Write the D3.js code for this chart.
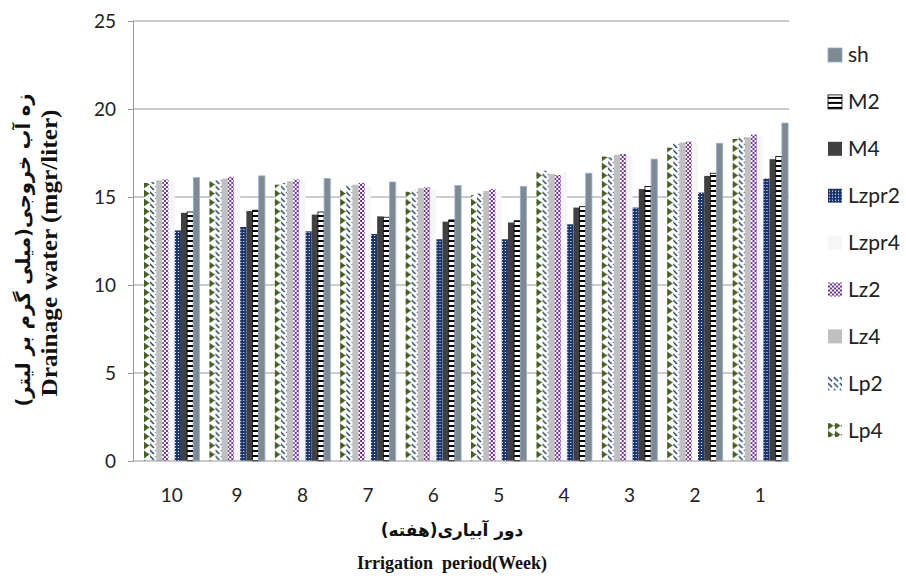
<!DOCTYPE html>
<html>
<head>
<meta charset="utf-8">
<script src="https://cdn.jsdelivr.net/npm/d3@7"></script>
<style>
  html, body { margin: 0; padding: 0; background: #fff; }
  svg { display: block; }
</style>
</head>
<body>
<svg id="chart" width="906" height="579"></svg>
<script>
// Irrigation periods (weeks), shown from 10 down to 1
const categories = ["10", "9", "8", "7", "6", "5", "4", "3", "2", "1"];

// Treatments in drawing order inside each group (left to right)
const seriesNames = ["Lp4", "Lp2", "Lz4", "Lz2", "Lzpr4", "Lzpr2", "M4", "M2", "sh"];

// Drainage water concentration (mgr/liter) per treatment, ordered like categories
const Lp4   = [15.80, 15.90, 15.70, 15.50, 15.30, 15.10, 16.50, 17.30, 17.80, 18.30];
const Lp2   = [15.85, 15.95, 15.80, 15.70, 15.40, 15.20, 16.50, 17.25, 18.05, 18.45];
const Lz4   = [15.95, 16.05, 15.90, 15.70, 15.50, 15.35, 16.30, 17.40, 18.10, 18.40];
const Lz2   = [16.00, 16.15, 16.00, 15.80, 15.55, 15.45, 16.25, 17.45, 18.15, 18.55];
const Lzpr4 = [15.90, 16.00, 15.85, 15.65, 15.45, 15.35, 16.40, 17.35, 18.05, 18.45];
const Lzpr2 = [13.10, 13.30, 13.05, 12.90, 12.60, 12.60, 13.45, 14.40, 15.25, 16.05];
const M4    = [14.10, 14.20, 14.00, 13.90, 13.60, 13.55, 14.40, 15.45, 16.20, 17.15];
const M2    = [14.15, 14.25, 14.15, 13.85, 13.70, 13.65, 14.45, 15.60, 16.35, 17.30];
const sh    = [16.10, 16.20, 16.05, 15.85, 15.65, 15.60, 16.35, 17.15, 18.05, 19.20];

const yTicks = [0, 5, 10, 15, 20, 25];

const valuesBySeries = { Lp4, Lp2, Lz4, Lz2, Lzpr4, Lzpr2, M4, M2, sh };
const legendOrder = seriesNames.slice().reverse();

const svg = d3.select("#chart");
const plot = { left: 133, right: 789, top: 21, bottom: 461 };

const x0 = d3.scaleBand().domain(categories).range([139, 793])
  .paddingInner(0.15).paddingOuter(0.075);
const x1 = d3.scaleBand().domain(seriesNames).range([0, x0.bandwidth()]).padding(0);
const y = d3.scaleLinear().domain([0, 25]).range([plot.bottom, plot.top]);

// ---- fill patterns for each treatment ----
const defs = svg.append("defs");

function pattern(id, w, h, draw) {
  const p = defs.append("pattern").attr("id", id)
    .attr("patternUnits", "userSpaceOnUse").attr("width", w).attr("height", h);
  draw(p);
}
// Lp4: dark green arrowheads on white
pattern("pLp4", 7, 9, p => {
  p.append("rect").attr("width", 7).attr("height", 9).attr("fill", "#fff");
  p.append("path").attr("d", "M0,0.5 L5.5,4.5 L0,8.5 Z").attr("fill", "#46601f");
  p.append("circle").attr("cx", 6.3).attr("cy", 4.5).attr("r", 0.7).attr("fill", "#46601f");
});
// Lp2: navy wide downward diagonals
pattern("pLp2", 6, 6, p => {
  p.append("rect").attr("width", 6).attr("height", 6).attr("fill", "#fff");
  p.append("path").attr("d", "M0,0 L4,4").attr("stroke", "#1f3d6e").attr("stroke-width", 1.4);
  p.append("path").attr("d", "M4,-2 L7,1 M-2,4 L1,7").attr("stroke", "#1f3d6e").attr("stroke-width", 1.4);
});
// Lz2: purple checkerboard
pattern("pLz2", 4, 4, p => {
  p.append("rect").attr("width", 4).attr("height", 4).attr("fill", "#fff");
  p.append("rect").attr("width", 2).attr("height", 2).attr("fill", "#7030a0");
  p.append("rect").attr("x", 2).attr("y", 2).attr("width", 2).attr("height", 2).attr("fill", "#7030a0");
});
// Lzpr2: navy with small white dots
pattern("pLzpr2", 3, 3, p => {
  p.append("rect").attr("width", 3).attr("height", 3).attr("fill", "#1c3670");
  p.append("rect").attr("x", 1).attr("y", 1).attr("width", 1).attr("height", 1).attr("fill", "#fff");
});
// M2: black ladder rungs on white
pattern("pM2", 6, 5, p => {
  p.append("rect").attr("width", 6).attr("height", 5).attr("fill", "#fff");
  p.append("rect").attr("width", 6).attr("height", 2).attr("fill", "#000");
});

const fills = {
  Lp4: "url(#pLp4)", Lp2: "url(#pLp2)", Lz4: "#c0c0c0", Lz2: "url(#pLz2)",
  Lzpr4: "#f6f6f6", Lzpr2: "url(#pLzpr2)", M4: "#404040", M2: "url(#pM2)", sh: "#808890"
};
const strokes = { M2: "#000", sh: "#8fb0d8" };

// ---- gridlines ----
svg.append("g").selectAll("line").data(yTicks.filter(t => t > 0)).join("line")
  .attr("x1", plot.left).attr("x2", plot.right)
  .attr("y1", d => y(d)).attr("y2", d => y(d))
  .attr("stroke", "#999").attr("stroke-width", 1);

// ---- bars ----
const groups = svg.append("g").selectAll("g").data(categories).join("g")
  .attr("transform", d => `translate(${x0(d)},0)`);
groups.selectAll("rect")
  .data((c, i) => seriesNames.map(s => ({ s, v: valuesBySeries[s][i] })))
  .join("rect")
  .attr("x", d => x1(d.s))
  .attr("y", d => y(d.v))
  .attr("width", x1.bandwidth())
  .attr("height", d => y(0) - y(d.v))
  .attr("fill", d => fills[d.s])
  .attr("stroke", d => strokes[d.s] || "none")
  .attr("stroke-width", 0.8);

// ---- axes ----
const yAxis = d3.axisLeft(y).tickValues(yTicks).tickSize(5).tickPadding(12);
const ya = svg.append("g").attr("transform", `translate(${plot.left},0)`).call(yAxis);
ya.select(".domain").attr("stroke", "#999");
ya.selectAll(".tick line").attr("stroke", "#999");
ya.selectAll("text").attr("font-family", "Lato, 'Open Sans', sans-serif")
  .attr("font-size", 19).attr("fill", "#222");

svg.append("line").attr("x1", plot.left).attr("x2", plot.right)
  .attr("y1", y(0)).attr("y2", y(0)).attr("stroke", "#999");

const xAxis = d3.axisBottom(x0).tickSize(0).tickPadding(28);
const xa = svg.append("g").attr("transform", `translate(0,${y(0)})`).call(xAxis);
xa.select(".domain").remove();
xa.selectAll("text").attr("font-family", "Lato, 'Open Sans', sans-serif")
  .attr("font-size", 19).attr("fill", "#222");

// ---- axis titles ----
svg.append("text")
  .attr("transform", "translate(30,250) rotate(-90)")
  .attr("text-anchor", "middle")
  .attr("font-family", "'DejaVu Sans', 'Noto Sans', sans-serif")
  .attr("font-weight", "bold").attr("font-size", 19.5).attr("fill", "#111")
  .text("زه آب خروجی(میلی گرم بر لیتر)");
svg.append("text")
  .attr("transform", "translate(57,253) rotate(-90)")
  .attr("text-anchor", "middle")
  .attr("font-family", "'Liberation Serif', serif")
  .attr("font-weight", "bold").attr("font-size", 24).attr("fill", "#111")
  .attr("textLength", 287).attr("lengthAdjust", "spacingAndGlyphs")
  .text("Drainage water (mgr/liter)");

svg.append("text")
  .attr("x", 452).attr("y", 536).attr("text-anchor", "middle")
  .attr("font-family", "'DejaVu Sans', 'Noto Sans', sans-serif")
  .attr("font-weight", "bold").attr("font-size", 17).attr("fill", "#111")
  .text("دور آبیاری(هفته)");
svg.append("text")
  .attr("x", 452).attr("y", 569).attr("text-anchor", "middle")
  .attr("font-family", "'Liberation Serif', serif")
  .attr("font-weight", "bold").attr("font-size", 18).attr("fill", "#111")
  .attr("xml:space", "preserve")
  .text("Irrigation  period(Week)");

// ---- legend ----
const legend = svg.append("g").selectAll("g").data(legendOrder).join("g")
  .attr("transform", (d, i) => `translate(828,${55 + i * 46.9})`);
legend.append("rect")
  .attr("x", 0).attr("y", -7).attr("width", 14).attr("height", 14)
  .attr("fill", d => fills[d])
  .attr("stroke", d => strokes[d] || "none").attr("stroke-width", 0.8);
legend.append("text")
  .attr("x", 20).attr("y", 0).attr("dy", "0.35em")
  .attr("font-family", "Lato, 'Open Sans', sans-serif")
  .attr("font-size", 21).attr("fill", "#222")
  .text(d => d);
</script>
</body>
</html>
